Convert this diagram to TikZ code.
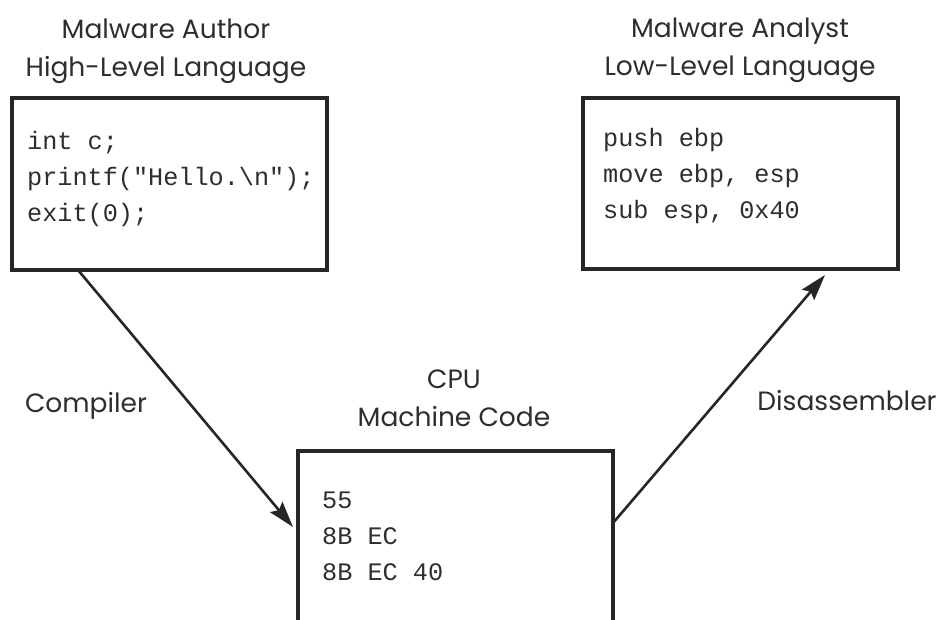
\documentclass[tikz,border=0pt]{standalone}
\usepackage{fontspec}
\setmainfont{Poppins}
\newfontfamily\codefont{Liberation Mono}
\usetikzlibrary{arrows.meta}
\definecolor{ink}{HTML}{262626}
\definecolor{txt}{HTML}{2E2E2E}
\begin{document}
\begin{tikzpicture}[x=1pt,y=-1pt,
  box/.style={draw=ink, line width=3.5pt, minimum width=315pt, inner sep=0pt},
  code/.style={anchor=base west, inner sep=0pt, text=txt, font=\codefont\fontsize{25.2}{36}\selectfont},
  title/.style={anchor=base, inner sep=0pt, text=txt, font=\fontsize{26.5}{38}\selectfont},
  lbl/.style={anchor=base, inner sep=0pt, text=txt, font=\fontsize{26.5}{38}\selectfont},
  conn/.style={draw=ink, line width=2.6pt, -{Stealth[length=26pt,width=16pt,inset=4pt]}}]
\useasboundingbox (0,0) rectangle (942,620);
\fill[white] (0,0) rectangle (942,620);
\clip (0,0) rectangle (942,620);
% boxes
\node[box, minimum height=172pt] (boxL) at (169.5,184) {};
\node[box, minimum height=171pt] (boxR) at (740.5,183.5) {};
\node[box, minimum height=230pt] (boxB) at (455.5,566) {};
% titles
\node[title] (tL) at (166,39) {\begin{tabular}[t]{@{}c@{}}Malware Author\\High-Level Language\end{tabular}};
\node[title] (tR) at (740,38) {\begin{tabular}[t]{@{}c@{}}Malware Analyst\\Low-Level Language\end{tabular}};
\node[title] (tB) at (454,388) {\begin{tabular}[t]{@{}c@{}}CPU\\Machine Code\end{tabular}};
% code
\node[code] (cL) at (27,150) {\begin{tabular}[t]{@{}l@{}}int c;\\printf("Hello.\textbackslash n");\\exit(0);\end{tabular}};
\node[code] (cR) at (603,147) {\begin{tabular}[t]{@{}l@{}}push ebp\\move ebp, esp\\sub esp, 0x40\end{tabular}};
\node[code] (cB) at (322,508) {\begin{tabular}[t]{@{}l@{}}55\\8B EC\\8B EC 40\end{tabular}};
% labels
\node[lbl] (comp) at (86,412) {Compiler};
\node[lbl] (disas) at (847,410) {Disassembler};
% connectors
\coordinate (lstart) at (78,270);
\coordinate (ltip) at (293,527);
\coordinate (rstart) at (613,523);
\coordinate (rtip) at (825,275);
\draw[conn] (lstart) -- (ltip);
\draw[conn] (rstart) -- (rtip);
\end{tikzpicture}
\end{document}
